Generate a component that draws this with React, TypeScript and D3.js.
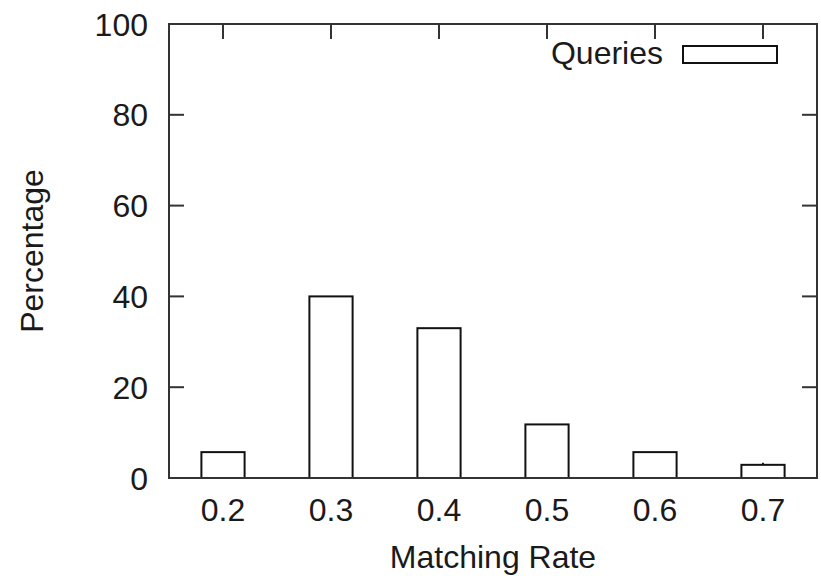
import React from "react";
import * as d3 from "d3";

const categories = [0.2, 0.3, 0.4, 0.5, 0.6, 0.7];
const tickLabels = ["0.2", "0.3", "0.4", "0.5", "0.6", "0.7"];
const queries = [5.7, 40, 33, 11.8, 5.7, 2.9];
const yTicks = [0, 20, 40, 60, 80, 100];
const seriesName = "Queries";

const W = 821;
const H = 579;
const M = { left: 169, right: 817, top: 24, bottom: 478 };
const FONT = "'Liberation Sans', Arial, Helvetica, sans-serif";
const FS = 32;

export default function App() {
  const x = d3.scaleLinear().domain([0.15, 0.75]).range([M.left, M.right]);
  const y = d3.scaleLinear().domain([0, 100]).range([M.bottom, M.top]);
  const barW = x(0.04) - x(0);
  const tickLen = 15;
  const frame = "#333";

  return (
    <svg
      width={W}
      height={H}
      style={{ position: "absolute", left: 0, top: 0, background: "#fff" }}
      fontFamily={FONT}
    >
      <rect x={0} y={0} width={W} height={H} fill="#fff" />
      {/* y ticks */}
      {yTicks.map((t) => (
        <g key={"y" + t}>
          <line x1={M.left} x2={M.left + tickLen} y1={y(t)} y2={y(t)} stroke={frame} strokeWidth={2} />
          <line x1={M.right} x2={M.right - tickLen} y1={y(t)} y2={y(t)} stroke={frame} strokeWidth={2} />
          <text x={M.left - 21} y={y(t)} dy="0.36em" textAnchor="end" fontSize={FS} fill="#1a1a1a">
            {t}
          </text>
        </g>
      ))}
      {/* x ticks */}
      {categories.map((c, i) => (
        <g key={"x" + c}>
          <line x1={x(c)} x2={x(c)} y1={M.top} y2={M.top + tickLen} stroke={frame} strokeWidth={2} />
          <line x1={x(c)} x2={x(c)} y1={M.bottom} y2={M.bottom - tickLen} stroke={frame} strokeWidth={2} />
          <text x={x(c)} y={M.bottom + 43} textAnchor="middle" fontSize={FS} fill="#1a1a1a">
            {tickLabels[i]}
          </text>
        </g>
      ))}
      {/* bars */}
      {categories.map((c, i) => (
        <rect
          key={"b" + c}
          x={x(c) - barW / 2}
          y={y(queries[i])}
          width={barW}
          height={y(0) - y(queries[i])}
          fill="#fff"
          stroke="#111"
          strokeWidth={2}
        />
      ))}
      <line x1={x(0.7)} x2={x(0.7)} y1={y(queries[5]) - 2} y2={y(queries[5])} stroke="#111" strokeWidth={1.5} />
      {/* frame */}
      <rect
        x={M.left}
        y={M.top}
        width={M.right - M.left}
        height={M.bottom - M.top}
        fill="none"
        stroke={frame}
        strokeWidth={2}
      />
      {/* legend */}
      <text x={663} y={64} textAnchor="end" fontSize={FS} fill="#1a1a1a">
        {seriesName}
      </text>
      <rect x={683} y={46} width={94} height={17} fill="#fff" stroke="#111" strokeWidth={2} />
      {/* axis labels */}
      <text x={(M.left + M.right) / 2} y={568} textAnchor="middle" fontSize={FS} fill="#1a1a1a">
        Matching Rate
      </text>
      <text
        transform={`translate(43, ${(M.top + M.bottom) / 2}) rotate(-90)`}
        textAnchor="middle"
        fontSize={FS}
        fill="#1a1a1a"
      >
        Percentage
      </text>
    </svg>
  );
}
